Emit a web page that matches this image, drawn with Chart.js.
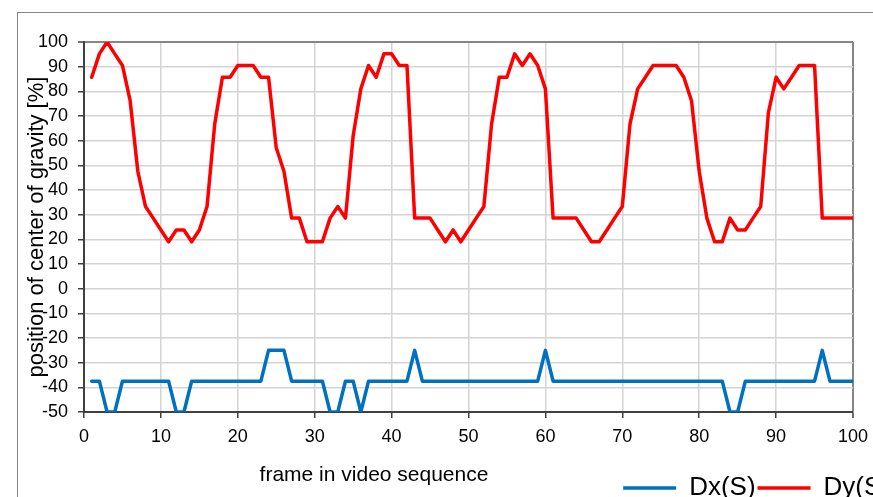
<!DOCTYPE html>
<html>
<head>
<meta charset="utf-8">
<script src="https://cdn.jsdelivr.net/npm/chart.js@4.4.1/dist/chart.umd.min.js"></script>
<style>
  html, body { margin: 0; padding: 0; background: #fff; overflow: hidden; }
  #frame { position: absolute; left: 17px; top: 12px; width: 1000px; height: 1000px; border: 1px solid #868686; }
  #wrap { position: absolute; left: 0; top: 0; }
</style>
</head>
<body>
<div id="frame"></div>
<div id="wrap"><canvas id="chart" width="892" height="511"></canvas></div>
<script>
// Daten
const seriesNames = ["Dx(S)", "Dy(S)"];
const xTitle = "frame in video sequence";
const yTitle = "position of center of gravity [%]";

const dxS = [
  -37.5, -37.5, -50, -50, -37.5, -37.5, -37.5, -37.5, -37.5, -37.5,
  -37.5, -50, -50, -37.5, -37.5, -37.5, -37.5, -37.5, -37.5, -37.5,
  -37.5, -37.5, -37.5, -25, -25, -25, -37.5, -37.5, -37.5, -37.5,
  -37.5, -50, -50, -37.5, -37.5, -50, -37.5, -37.5, -37.5, -37.5,
  -37.5, -37.5, -25, -37.5, -37.5, -37.5, -37.5, -37.5, -37.5, -37.5,
  -37.5, -37.5, -37.5, -37.5, -37.5, -37.5, -37.5, -37.5, -37.5, -25,
  -37.5, -37.5, -37.5, -37.5, -37.5, -37.5, -37.5, -37.5, -37.5, -37.5,
  -37.5, -37.5, -37.5, -37.5, -37.5, -37.5, -37.5, -37.5, -37.5, -37.5,
  -37.5, -37.5, -37.5, -50, -50, -37.5, -37.5, -37.5, -37.5, -37.5,
  -37.5, -37.5, -37.5, -37.5, -37.5, -25, -37.5, -37.5, -37.5, -37.5
];

const dyS = [
  85.7, 95.2, 100, 95.2, 90.5, 76.2, 47.6, 33.3, 28.6, 23.8,
  19.0, 23.8, 23.8, 19.0, 23.8, 33.3, 66.7, 85.7, 85.7, 90.5,
  90.5, 90.5, 85.7, 85.7, 57.1, 47.6, 28.6, 28.6, 19.0, 19.0,
  19.0, 28.6, 33.3, 28.6, 61.9, 81.0, 90.5, 85.7, 95.2, 95.2,
  90.5, 90.5, 28.6, 28.6, 28.6, 23.8, 19.0, 23.8, 19.0, 23.8,
  28.6, 33.3, 66.7, 85.7, 85.7, 95.2, 90.5, 95.2, 90.5, 81.0,
  28.6, 28.6, 28.6, 28.6, 23.8, 19.0, 19.0, 23.8, 28.6, 33.3,
  66.7, 81.0, 85.7, 90.5, 90.5, 90.5, 90.5, 85.7, 76.2, 47.6,
  28.6, 19.0, 19.0, 28.6, 23.8, 23.8, 28.6, 33.3, 71.4, 85.7,
  81.0, 85.7, 90.5, 90.5, 90.5, 28.6, 28.6, 28.6, 28.6, 28.6
];

// Frame-Nummern 1..100 (x-Werte)
const frames = dyS.map((_, i) => i + 1);

const xRange = [0, 100];
const yRange = [-50, 100];
const tickStep = 10;

const FONT = '"Liberation Sans", Arial, sans-serif';
const gridLight = "#d4d4d4";
const frameGray = "#868686";
const axisDark = "#404040";

const toPoints = (vals) => vals.map((v, i) => ({ x: frames[i], y: v }));

// x-Achsentitel: in Excel nicht mittig unter der Plotfläche
const xTitlePlugin = {
  id: "xTitle",
  afterDraw(chart) {
    const { ctx, chartArea } = chart;
    ctx.save();
    ctx.font = "21px " + FONT;
    ctx.fillStyle = "#000";
    ctx.textAlign = "center";
    ctx.textBaseline = "alphabetic";
    ctx.fillText(xTitle, chartArea.left + 290, chartArea.bottom + 69);
    ctx.restore();
  }
};

const gridColor = (edgeHigh) => (c) => {
  const v = c.tick && c.tick.value;
  if (v === edgeHigh) return frameGray;
  return gridLight;
};
const gridWidth = (edgeHigh) => (c) => (c.tick && c.tick.value === edgeHigh ? 2 : 1.5);

new Chart(document.getElementById("chart"), {
  type: "line",
  data: {
    datasets: [
      {
        label: seriesNames[0],
        data: toPoints(dxS),
        borderColor: "#0070c0",
        backgroundColor: "#0070c0",
        borderWidth: 3.5,
        pointRadius: 0,
        tension: 0,
        borderJoinStyle: "round",
        borderCapStyle: "round"
      },
      {
        label: seriesNames[1],
        data: toPoints(dyS),
        borderColor: "#ff0000",
        backgroundColor: "#ff0000",
        borderWidth: 3.5,
        pointRadius: 0,
        tension: 0,
        borderJoinStyle: "round",
        borderCapStyle: "round"
      }
    ]
  },
  options: {
    responsive: false,
    animation: false,
    devicePixelRatio: 1,
    layout: { padding: { left: 24, top: 42, right: 0, bottom: 0 } },
    scales: {
      x: {
        type: "linear",
        min: xRange[0],
        max: xRange[1],
        ticks: { stepSize: tickStep, color: "#000", font: { family: FONT, size: 18 }, padding: 8, maxRotation: 0 },
        grid: { color: gridColor(xRange[1]), lineWidth: gridWidth(xRange[1]), tickColor: axisDark, tickLength: 6, tickWidth: 1.5 },
        border: { color: axisDark, width: 2 },
        afterFit: (s) => { s.height = 61; }
      },
      y: {
        min: yRange[0],
        max: yRange[1],
        ticks: { stepSize: tickStep, color: "#000", font: { family: FONT, size: 18 }, padding: 10 },
        grid: { color: gridColor(yRange[1]), lineWidth: gridWidth(yRange[1]), tickColor: axisDark, tickLength: 6, tickWidth: 1.5 },
        border: { color: axisDark, width: 2 },
        title: { display: true, text: yTitle, color: "#000", font: { family: FONT, size: 22 }, padding: 0 },
        afterFit: (s) => { s.width = 60; }
      },
      // nur Platzhalter rechts, damit die Legende über die Plotfläche hinausragt
      pad: {
        type: "linear",
        position: "right",
        grid: { display: false },
        ticks: { display: false },
        border: { display: false },
        afterFit: (s) => { s.width = 39; }
      }
    },
    plugins: {
      legend: {
        position: "bottom",
        align: "end",
        labels: {
          usePointStyle: true,
          pointStyle: "line",
          pointStyleWidth: 53,
          color: "#000",
          font: { family: FONT, size: 26 },
          padding: 2
        }
      },
      tooltip: { enabled: false }
    }
  },
  plugins: [xTitlePlugin]
});
</script>
</body>
</html>
